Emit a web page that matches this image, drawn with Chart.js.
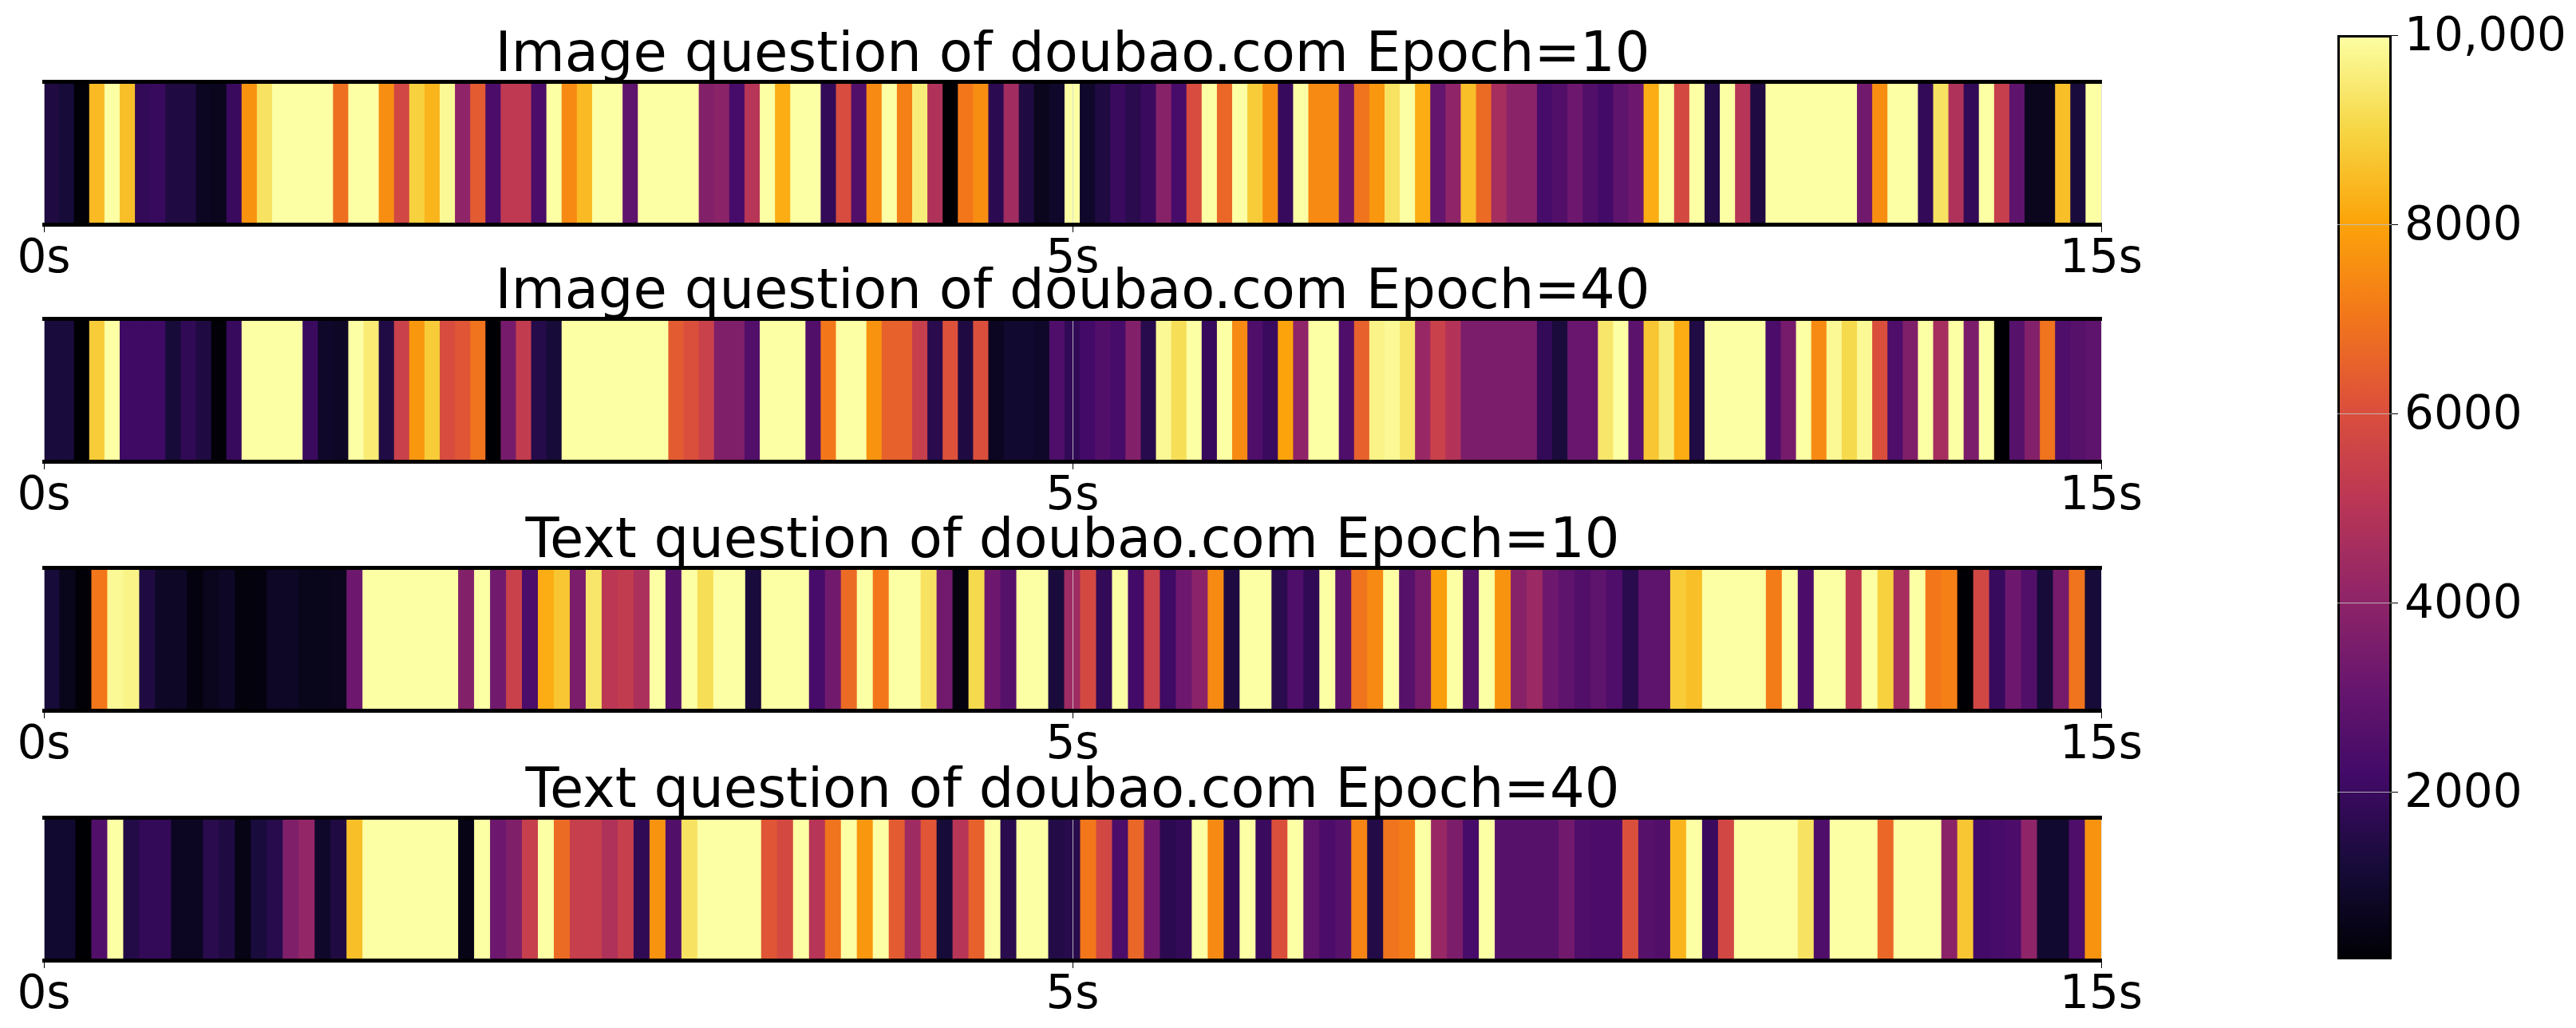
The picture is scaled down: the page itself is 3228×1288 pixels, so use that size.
<!DOCTYPE html>
<html>
<head>
<meta charset="utf-8">
<title>doubao.com heat strips</title>
<script src="https://cdn.jsdelivr.net/npm/chart.js@4"></script>
<style>
    body { margin: 0; background: #fff; width: 3228px; height: 1288px; overflow: hidden; position: relative; }
    canvas { position: absolute; }
</style>
</head>
<body>
<canvas id="strip0"></canvas>
<canvas id="strip1"></canvas>
<canvas id="strip2"></canvas>
<canvas id="strip3"></canvas>
<canvas id="colorbar"></canvas>
<script>
// Chart values, one per time cell
var titles = ['Image question of doubao.com Epoch=10', 'Image question of doubao.com Epoch=40', 'Text question of doubao.com Epoch=10', 'Text question of doubao.com Epoch=40'];
var tickLabels = ['0s', '5s', '15s'];
var colorbarTicks = [2000, 4000, 6000, 8000, 10000];
var colorbarLabels = ['2000', '4000', '6000', '8000', '10,000'];
var colorMin = 230;
var colorMax = 10000;

var imageEpoch10 = [
    1400,1200,300,8450,10000,8550,1850,1950,1400,1400,
    780,700,2000,7650,9300,10000,10000,10000,10000,6850,
    10000,10000,7550,5700,8900,8350,9850,4040,6350,2400,
    5200,5200,2400,10000,7450,8450,10000,10000,2880,10000,
    10000,10000,10000,3750,3950,2300,5000,10000,8200,10000,
    10000,1850,5900,2580,7450,10000,7250,9550,4800,230,
    7050,7550,1700,4480,1400,700,950,10000,950,1400,
    2000,1650,2000,3850,2300,5900,10000,6650,10000,8800,
    7550,1950,10000,7450,7450,3230,6950,7750,9300,10000,
    8200,3010,4040,8550,6750,4570,3950,3950,2300,2580,
    3230,2580,2200,2880,3230,8200,10000,5800,10000,1500,
    10000,5000,1400,10000,10000,10000,10000,10000,10000,3330,
    7550,10000,10000,1850,9300,4800,1850,10000,5400,2880,
    700,700,8550,1300,10000
];
var imageEpoch40 = [
    1300,1300,230,8800,10000,2100,2100,2100,1200,1800,
    1400,300,1950,10000,10000,10000,10000,2000,950,850,
    10000,9500,1450,5500,7750,8800,5900,6200,6950,230,
    3450,5300,1550,1200,10000,10000,10000,10000,10000,10000,
    10000,6350,6000,5500,3650,3650,2580,10000,10000,10000,
    2580,7050,10000,10000,7650,6500,6500,5400,1650,6092,
    1400,6000,780,1050,1050,950,2480,1800,2200,2580,
    2300,3750,1600,9850,9200,10000,1950,10000,7450,2480,
    2000,8000,4040,10000,10000,2480,6500,9700,9850,9400,
    4240,5500,4900,3560,3560,3560,3560,3560,1850,1300,
    3130,3130,9400,10000,2780,8700,9550,8200,1450,10000,
    10000,10000,10000,2400,3450,10000,7450,9850,9100,9850,
    6000,2480,3650,10000,4570,10000,3560,10000,230,2680,
    3750,6950,2480,2680,2880
];
var textEpoch10 = [
    1200,650,300,7050,9850,9700,1400,850,850,450,
    700,850,400,450,850,850,650,650,700,3230,
    10000,10000,10000,10000,10000,10000,3750,10000,3330,5500,
    2400,8200,8700,3560,9400,5115,5300,4700,10000,2680,
    10000,9200,10000,10000,1300,10000,10000,10000,2300,3330,
    6750,10000,7050,10000,10000,9300,3330,450,9100,3230,
    2680,10000,10000,1300,4400,5800,1850,10000,2200,5500,
    2100,3230,3950,7450,1400,10000,10000,1650,2480,1800,
    10000,2880,6950,7450,10000,2680,3450,7900,10000,2680,
    10000,7650,3850,4300,3230,2880,2580,2880,2480,1650,
    2880,2880,8800,8550,10000,10000,10000,10000,7150,10000,
    2400,10000,10000,5115,10000,8900,4570,10000,7050,7250,
    250,5700,1950,3230,2580,1200,3450,6950,1200
];
var textEpoch40 = [
    1050,1050,230,2580,10000,1500,1850,1850,780,780,
    1650,1400,550,1300,1600,3650,4140,950,1400,8550,
    10000,10000,10000,10000,10000,10000,550,10000,3230,3650,
    5400,10000,6750,5400,5400,4800,5400,1800,7650,2580,
    9300,10000,10000,10000,10000,6200,5800,10000,5000,6950,
    10000,7750,10000,6350,4400,6200,1200,5000,6500,10000,
    1650,10000,10000,1500,1600,7050,5700,2400,6650,3230,
    1700,1850,10000,7450,1850,10000,2000,6000,10000,2880,
    2400,2680,7350,1500,6950,7150,10000,4240,3560,2300,
    10000,2680,2680,2680,2680,3330,2480,2400,2400,6000,
    2680,2580,8350,10000,2000,5700,10000,10000,10000,10000,
    9300,2480,10000,10000,10000,6650,10000,10000,10000,3950,
    8700,2200,2300,2400,4040,1050,1050,2480,7650
];
var stripValues = [imageEpoch10, imageEpoch40, textEpoch10, textEpoch40];

// inferno colormap stops
var inferno = ['#000004', '#160b39', '#420a68', '#6a176e', '#932667', '#bc3754', '#dd513a', '#f37819', '#fca50a', '#f6d746', '#fcffa4'];

// Layout in page pixels
var plotTops = [103, 400, 712, 1025];
var plotHeight = 178;
var plotLeft = 55;
var plotRight = 2633;
var sidePad = 120; // room for the first and last tick label, keeps the plot width fixed
var titleSize = 68.8;
var titleGap = -3;
var tickSize = 58;
var axisHeight = 90;

Chart.defaults.font.family = 'DejaVu Sans';
Chart.defaults.color = '#000';
Chart.defaults.animation = false;
Chart.defaults.responsive = false;
Chart.defaults.devicePixelRatio = 1;

function hexToRgb(hex) {
    return [parseInt(hex.slice(1, 3), 16), parseInt(hex.slice(3, 5), 16), parseInt(hex.slice(5, 7), 16)];
}

// Value -> colour, same normalisation as the colorbar
function colorFor(value) {
    var t = (value - colorMin) / (colorMax - colorMin) * (inferno.length - 1);
    var i = Math.min(Math.floor(t), inferno.length - 2);
    var a = hexToRgb(inferno[i]), b = hexToRgb(inferno[i + 1]);
    var f = t - i;
    return 'rgb(' + Math.round(a[0] + (b[0] - a[0]) * f) + ',' + Math.round(a[1] + (b[1] - a[1]) * f) + ',' + Math.round(a[2] + (b[2] - a[2]) * f) + ')';
}

function drawStrip(index) {
    var canvas = document.getElementById('strip' + index);
    var values = stripValues[index];
    var n = values.length;
    var titleBox = Math.round(titleSize) + titleGap;
    canvas.width = plotRight - plotLeft + 2 * sidePad;
    canvas.height = titleBox + plotHeight + axisHeight;
    canvas.style.left = (plotLeft - sidePad) + 'px';
    canvas.style.top = (plotTops[index] - titleBox) + 'px';

    new Chart(canvas, {
        type: 'bar',
        data: {
            datasets: [{
                data: values.map(function(v, i) { return { x: i + 0.5, y: [0, 1], v: v }; }),
                backgroundColor: function(ctx) { return ctx.raw ? colorFor(ctx.raw.v) : '#000'; },
                borderWidth: 0,
                inflateAmount: 0.5,
                barPercentage: 1,
                categoryPercentage: 1
            }]
        },
        options: {
            layout: { padding: { left: sidePad, right: sidePad, top: 0, bottom: 0 } },
            plugins: {
                legend: { display: false },
                tooltip: { enabled: false },
                title: {
                    display: true,
                    text: titles[index],
                    color: '#000',
                    font: { size: titleSize, weight: 'normal', lineHeight: 1 },
                    padding: { top: 0, bottom: titleGap }
                }
            },
            scales: {
                x: {
                    type: 'linear',
                    offset: false,
                    min: 0,
                    max: n,
                    position: 'bottom',
                    afterBuildTicks: function(scale) {
                        scale.ticks = [{ value: 0 }, { value: n / 2 }, { value: n }];
                    },
                    afterFit: function(scale) { scale.height = axisHeight; },
                    ticks: {
                        autoSkip: false,
                        maxRotation: 0,
                        padding: 6,
                        font: { size: tickSize, lineHeight: 1 },
                        callback: function(value, i) { return tickLabels[i]; }
                    },
                    grid: { offset: false, color: 'rgba(215,215,215,0.8)', lineWidth: 1, z: 1, tickLength: 10, tickColor: '#000', tickWidth: 1 },
                    border: { color: '#000', width: 5, z: 2 }
                },
                xTop: {
                    type: 'linear',
                    axis: 'x',
                    position: 'top',
                    min: 0,
                    max: n,
                    afterFit: function(scale) { scale.height = 0; },
                    ticks: { display: false },
                    grid: { display: false, drawTicks: false },
                    border: { color: '#000', width: 5, z: 2 }
                },
                y: { display: false, min: 0, max: 1 }
            }
        }
    });
}

function drawColorbar() {
    var canvas = document.getElementById('colorbar');
    canvas.width = 328;
    canvas.height = 1288;
    canvas.style.left = '2900px';
    canvas.style.top = '0px';

    new Chart(canvas, {
        type: 'bar',
        data: {
            labels: [''],
            datasets: [{
                data: [[colorMin, colorMax]],
                backgroundColor: function(ctx) {
                    var y = ctx.chart.scales.y;
                    if (!y || !isFinite(y.bottom) || !isFinite(y.top)) return '#000';
                    var g = ctx.chart.ctx.createLinearGradient(0, y.bottom, 0, y.top);
                    inferno.forEach(function(c, i) { g.addColorStop(i / (inferno.length - 1), c); });
                    return g;
                },
                borderColor: '#000',
                borderWidth: 3,
                borderSkipped: false,
                inflateAmount: 0,
                barPercentage: 1,
                categoryPercentage: 1
            }]
        },
        options: {
            layout: { padding: { left: 29, right: 0, top: 44, bottom: 86 } },
            plugins: { legend: { display: false }, tooltip: { enabled: false } },
            scales: {
                x: { display: false },
                y: {
                    type: 'linear',
                    position: 'right',
                    min: colorMin,
                    max: colorMax,
                    afterBuildTicks: function(scale) {
                        scale.ticks = colorbarTicks.map(function(v) { return { value: v }; });
                    },
                    afterFit: function(scale) { scale.width = 231; },
                    ticks: {
                        autoSkip: false,
                        padding: 8,
                        labelOffset: 4,
                        font: { size: tickSize, lineHeight: 1 },
                        callback: function(value, i) { return colorbarLabels[i]; }
                    },
                    grid: {
                        offset: false,
                        color: function(ctx) { return ctx.tick && ctx.tick.value === colorMax ? 'rgba(0,0,0,0)' : 'rgba(190,190,190,0.9)'; },
                        lineWidth: 1,
                        z: 1,
                        tickLength: 8,
                        tickColor: '#000',
                        tickWidth: 1
                    },
                    border: { display: false }
                }
            }
        }
    });
}

for (var s = 0; s < stripValues.length; s++) {
    drawStrip(s);
}
drawColorbar();
</script>
</body>
</html>
